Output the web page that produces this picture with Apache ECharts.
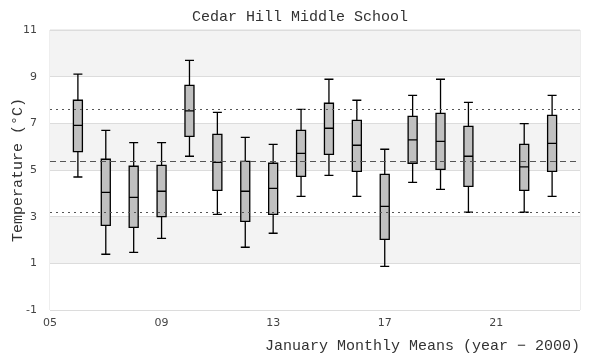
<!DOCTYPE html>
<html>
<head>
<meta charset="utf-8">
<script src="https://cdn.jsdelivr.net/npm/echarts@6/dist/echarts.min.js"></script>
<style>html,body{margin:0;padding:0;background:#fff}#c{width:600px;height:360px}</style>
</head>
<body>
<div id="c"></div>
<script>
const years   = [6, 7, 8, 9, 10, 11, 12, 13, 14, 15, 16, 17, 18, 19, 20, 22, 23];
const mins    = [4.70, 1.39, 1.47, 2.07, 5.59, 3.10, 1.69, 2.29, 3.87, 4.77, 3.87, 0.87, 4.47, 4.17, 3.19, 3.19, 3.87];
const q1s     = [5.79, 2.63, 2.54, 3.00, 6.44, 4.13, 2.80, 3.10, 4.73, 5.67, 4.94, 2.03, 5.29, 5.03, 4.30, 4.13, 4.94];
const medians = [6.91, 4.04, 3.83, 4.09, 7.53, 5.33, 4.09, 4.21, 5.71, 6.79, 6.06, 3.44, 6.29, 6.23, 5.59, 5.13, 6.14];
const q3s     = [7.99, 5.46, 5.16, 5.20, 8.63, 6.53, 5.37, 5.29, 6.70, 7.86, 7.13, 4.81, 7.30, 7.43, 6.87, 6.10, 7.34];
const maxs    = [9.11, 6.70, 6.17, 6.17, 9.70, 7.47, 6.40, 6.10, 7.60, 8.89, 7.99, 5.89, 8.20, 8.89, 7.90, 6.99, 8.20];
const refMean  = 5.37;
const refUpper = 7.60;
const refLower = 3.19;
const xTitle = 'January Monthly Means (year \u2212 2000)';
const yTitle = 'Temperature (\u00b0C)';

const boxData = years.map((y, i) => [y, mins[i], q1s[i], medians[i], q3s[i], maxs[i]]);

const chart = echarts.init(document.getElementById('c'), null, {renderer: 'canvas'});
chart.setOption({
  animation: false,
  title: {
    text: 'Cedar Hill Middle School',
    left: 'center',
    top: 5,
    textStyle: {fontFamily: 'Liberation Mono', fontSize: 15, fontWeight: 'normal', color: '#333'}
  },
  graphic: [{
    type: 'text', right: 20, top: 339,
    style: {text: xTitle, font: '15px "Liberation Mono"', fill: '#333'}
  }],
  grid: {left: 50, right: 20, top: 30, bottom: 50, containLabel: false, outerBoundsMode: 'none',
    show: true, borderColor: '#dcdcdc', borderWidth: 1, backgroundColor: 'transparent'},
  xAxis: {
    type: 'value', min: 5, max: 24, interval: 4,
    axisLine: {show: false}, axisTick: {show: false}, splitLine: {show: false},
    axisLabel: {color: '#444', fontSize: 11, fontFamily: 'DejaVu Sans', margin: 8, showMaxLabel: false,
      formatter: v => String(v).padStart(2, '0')}
  },
  yAxis: {
    type: 'value', min: -1, max: 11, interval: 2,
    axisLine: {show: false}, axisTick: {show: false},
    splitLine: {show: true, lineStyle: {color: '#dcdcdc', width: 1}},
    splitArea: {show: true, areaStyle: {color: ['#ffffff', '#f3f3f3']}},
    axisLabel: {color: '#444', fontSize: 11, fontFamily: 'DejaVu Sans', margin: 13},
    name: yTitle, nameLocation: 'middle', nameGap: 24, nameMoveOverlap: false,
    nameTextStyle: {fontFamily: 'Liberation Mono', fontSize: 15, color: '#333'}
  },
  series: [{
    type: 'boxplot',
    data: boxData,
    boxWidth: [9, 9],
    itemStyle: {color: '#c0c0c0', borderColor: '#000', borderWidth: 1.3},
    markLine: {
      silent: true, symbol: 'none', label: {show: false},
      data: [
        {yAxis: refUpper, lineStyle: {type: [2, 4], color: '#555', width: 1.2}},
        {yAxis: refMean, lineStyle: {type: [6, 4], color: '#555', width: 1.2}},
        {yAxis: refLower, lineStyle: {type: [2, 4], color: '#555', width: 1.2}}
      ]
    }
  }]
});
</script>
</body>
</html>
